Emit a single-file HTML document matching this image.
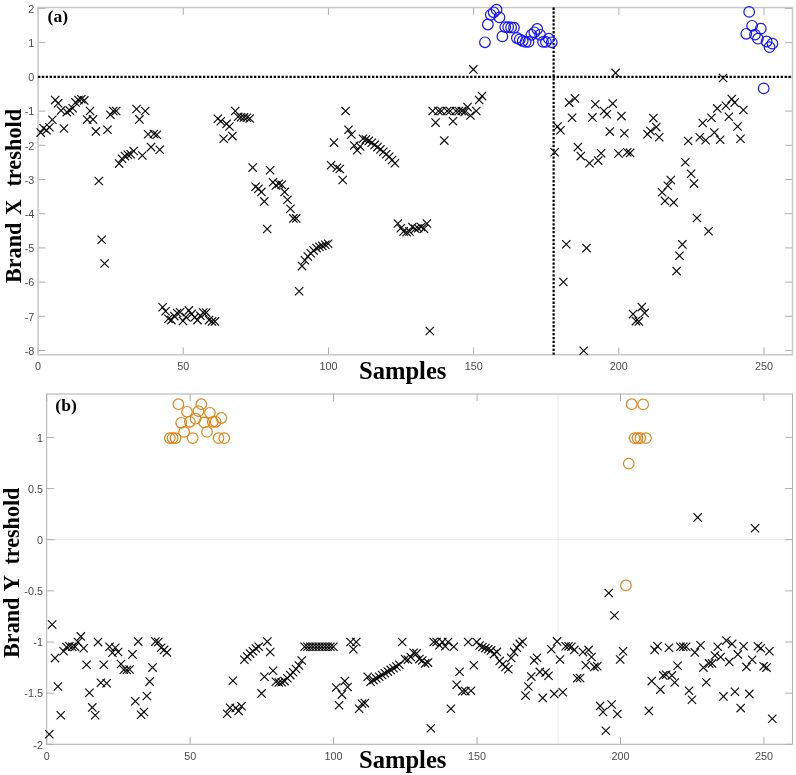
<!DOCTYPE html>
<html lang="en"><head><meta charset="utf-8"><title>Brand X / Brand Y threshold</title>
<style>html,body{margin:0;padding:0;background:#fff}svg{display:block;will-change:transform}.tl{font-family:"Liberation Sans",Arial,sans-serif;font-size:10.8px;fill:#4a4a4a}.bl{font-family:"Liberation Serif","Times New Roman",serif;font-weight:bold;fill:#000}</style></head><body>
<svg width="796" height="775" viewBox="0 0 796 775">
<rect width="796" height="775" fill="#fff"/>
<defs>
<path id="x" d="M-4.15 -4.15 L4.15 4.15 M-4.15 4.15 L4.15 -4.15" fill="none" stroke="#0a0a0a" stroke-width="1.15" stroke-linecap="butt"/>
<circle id="cb" r="5.3" fill="none" stroke="#1414ff" stroke-width="1.2"/>
<circle id="co" r="5.3" fill="none" stroke="#e08418" stroke-width="1.2"/>
</defs>
<g id="plot-a">
<path d="M38.1 354.8 v-7.2 M38.1 7.6 v7.2 M183.28 354.8 v-7.2 M183.28 7.6 v7.2 M328.46 354.8 v-7.2 M328.46 7.6 v7.2 M473.64 354.8 v-7.2 M473.64 7.6 v7.2 M618.82 354.8 v-7.2 M618.82 7.6 v7.2 M764 354.8 v-7.2 M764 7.6 v7.2 M38.1 350.5 h7.2 M792.5 350.5 h-7.2 M38.1 316.3 h7.2 M792.5 316.3 h-7.2 M38.1 282.1 h7.2 M792.5 282.1 h-7.2 M38.1 247.9 h7.2 M792.5 247.9 h-7.2 M38.1 213.7 h7.2 M792.5 213.7 h-7.2 M38.1 179.5 h7.2 M792.5 179.5 h-7.2 M38.1 145.3 h7.2 M792.5 145.3 h-7.2 M38.1 111.1 h7.2 M792.5 111.1 h-7.2 M38.1 76.9 h7.2 M792.5 76.9 h-7.2 M38.1 42.7 h7.2 M792.5 42.7 h-7.2 M38.1 8.5 h7.2 M792.5 8.5 h-7.2" fill="none" stroke="#989898" stroke-width="0.8"/>
<rect x="38.1" y="7.6" width="754.4" height="347.2" fill="none" stroke="#c8c8c8" stroke-width="1.5"/>
<text class="tl" x="38.1" y="370.2" text-anchor="middle">0</text>
<text class="tl" x="183.28" y="370.2" text-anchor="middle">50</text>
<text class="tl" x="328.46" y="370.2" text-anchor="middle">100</text>
<text class="tl" x="473.64" y="370.2" text-anchor="middle">150</text>
<text class="tl" x="618.82" y="370.2" text-anchor="middle">200</text>
<text class="tl" x="764" y="370.2" text-anchor="middle">250</text>
<text class="tl" x="34.3" y="354.7" text-anchor="end">-8</text>
<text class="tl" x="34.3" y="320.5" text-anchor="end">-7</text>
<text class="tl" x="34.3" y="286.3" text-anchor="end">-6</text>
<text class="tl" x="34.3" y="252.1" text-anchor="end">-5</text>
<text class="tl" x="34.3" y="217.9" text-anchor="end">-4</text>
<text class="tl" x="34.3" y="183.7" text-anchor="end">-3</text>
<text class="tl" x="34.3" y="149.5" text-anchor="end">-2</text>
<text class="tl" x="34.3" y="115.3" text-anchor="end">-1</text>
<text class="tl" x="34.3" y="81.1" text-anchor="end">0</text>
<text class="tl" x="34.3" y="46.9" text-anchor="end">1</text>
<text class="tl" x="34.3" y="12.7" text-anchor="end">2</text>
<path d="M37.9 76.9 H792.5" stroke="#000" stroke-width="2.2" stroke-dasharray="2.3 1.63" fill="none"/>
<path d="M553.63 7.6 V354.8" stroke="#000" stroke-width="2.2" stroke-dasharray="2.3 1.62" fill="none"/>
<use href="#x" x="40.7" y="132.6"/>
<use href="#x" x="43.61" y="128.3"/>
<use href="#x" x="46.51" y="130.3"/>
<use href="#x" x="49.41" y="127.2"/>
<use href="#x" x="52.32" y="119.8"/>
<use href="#x" x="55.22" y="100.1"/>
<use href="#x" x="58.13" y="103.2"/>
<use href="#x" x="61.03" y="110.5"/>
<use href="#x" x="63.93" y="128.5"/>
<use href="#x" x="66.84" y="112.1"/>
<use href="#x" x="69.74" y="110.5"/>
<use href="#x" x="72.64" y="108.2"/>
<use href="#x" x="75.55" y="102.4"/>
<use href="#x" x="78.45" y="100"/>
<use href="#x" x="81.35" y="99.2"/>
<use href="#x" x="84.26" y="100.4"/>
<use href="#x" x="87.16" y="119.6"/>
<use href="#x" x="90.06" y="111"/>
<use href="#x" x="92.97" y="119.4"/>
<use href="#x" x="95.87" y="131.4"/>
<use href="#x" x="98.78" y="181"/>
<use href="#x" x="101.68" y="239.7"/>
<use href="#x" x="104.58" y="263.5"/>
<use href="#x" x="107.49" y="129.7"/>
<use href="#x" x="110.39" y="114.8"/>
<use href="#x" x="113.29" y="111"/>
<use href="#x" x="116.2" y="111"/>
<use href="#x" x="119.1" y="163.6"/>
<use href="#x" x="122" y="158.7"/>
<use href="#x" x="124.91" y="156.1"/>
<use href="#x" x="127.81" y="154.8"/>
<use href="#x" x="130.72" y="154.2"/>
<use href="#x" x="133.62" y="151"/>
<use href="#x" x="136.52" y="109"/>
<use href="#x" x="139.43" y="119.4"/>
<use href="#x" x="142.33" y="155.5"/>
<use href="#x" x="145.23" y="111"/>
<use href="#x" x="148.14" y="134.2"/>
<use href="#x" x="151.04" y="147.1"/>
<use href="#x" x="153.94" y="134"/>
<use href="#x" x="156.85" y="134.8"/>
<use href="#x" x="159.75" y="149.7"/>
<use href="#x" x="162.65" y="307.3"/>
<use href="#x" x="165.56" y="311.3"/>
<use href="#x" x="168.46" y="318.7"/>
<use href="#x" x="171.37" y="320.1"/>
<use href="#x" x="174.27" y="316.1"/>
<use href="#x" x="177.17" y="313"/>
<use href="#x" x="180.08" y="312.2"/>
<use href="#x" x="182.98" y="320.9"/>
<use href="#x" x="185.88" y="317"/>
<use href="#x" x="188.79" y="310.4"/>
<use href="#x" x="191.69" y="313.9"/>
<use href="#x" x="194.59" y="317.4"/>
<use href="#x" x="197.5" y="320.1"/>
<use href="#x" x="200.4" y="315.7"/>
<use href="#x" x="203.31" y="312.6"/>
<use href="#x" x="206.21" y="312.6"/>
<use href="#x" x="209.11" y="320.1"/>
<use href="#x" x="212.02" y="321.4"/>
<use href="#x" x="214.92" y="321.4"/>
<use href="#x" x="217.82" y="118.7"/>
<use href="#x" x="220.73" y="121.3"/>
<use href="#x" x="223.63" y="138.7"/>
<use href="#x" x="226.53" y="123.9"/>
<use href="#x" x="229.44" y="126.5"/>
<use href="#x" x="232.34" y="136.1"/>
<use href="#x" x="235.24" y="111"/>
<use href="#x" x="238.15" y="116.8"/>
<use href="#x" x="241.05" y="117.2"/>
<use href="#x" x="243.96" y="117.4"/>
<use href="#x" x="246.86" y="117.7"/>
<use href="#x" x="249.76" y="118.5"/>
<use href="#x" x="252.67" y="167.6"/>
<use href="#x" x="255.57" y="186.8"/>
<use href="#x" x="258.47" y="188.7"/>
<use href="#x" x="261.38" y="191.9"/>
<use href="#x" x="264.28" y="201.4"/>
<use href="#x" x="267.18" y="229"/>
<use href="#x" x="270.09" y="170.2"/>
<use href="#x" x="272.99" y="182.3"/>
<use href="#x" x="275.9" y="185.5"/>
<use href="#x" x="278.8" y="183.8"/>
<use href="#x" x="281.7" y="184.8"/>
<use href="#x" x="284.61" y="191.9"/>
<use href="#x" x="287.51" y="199.7"/>
<use href="#x" x="290.41" y="208.7"/>
<use href="#x" x="293.32" y="218.4"/>
<use href="#x" x="296.22" y="218.4"/>
<use href="#x" x="299.12" y="291.3"/>
<use href="#x" x="302.03" y="266.1"/>
<use href="#x" x="304.93" y="260.3"/>
<use href="#x" x="307.83" y="256.5"/>
<use href="#x" x="310.74" y="253.2"/>
<use href="#x" x="313.64" y="250.6"/>
<use href="#x" x="316.55" y="248.1"/>
<use href="#x" x="319.45" y="246.8"/>
<use href="#x" x="322.35" y="245.9"/>
<use href="#x" x="325.26" y="244.8"/>
<use href="#x" x="328.16" y="243.8"/>
<use href="#x" x="331.06" y="165.3"/>
<use href="#x" x="333.97" y="142.6"/>
<use href="#x" x="336.87" y="167.7"/>
<use href="#x" x="339.77" y="169"/>
<use href="#x" x="342.68" y="180"/>
<use href="#x" x="345.58" y="111"/>
<use href="#x" x="348.49" y="129.7"/>
<use href="#x" x="351.39" y="134.5"/>
<use href="#x" x="354.29" y="145.5"/>
<use href="#x" x="357.2" y="150.3"/>
<use href="#x" x="360.1" y="146.5"/>
<use href="#x" x="363" y="138.7"/>
<use href="#x" x="365.91" y="139.6"/>
<use href="#x" x="368.81" y="140.9"/>
<use href="#x" x="371.71" y="142.8"/>
<use href="#x" x="374.62" y="144.9"/>
<use href="#x" x="377.52" y="147.1"/>
<use href="#x" x="380.42" y="149.4"/>
<use href="#x" x="383.33" y="151.7"/>
<use href="#x" x="386.23" y="154.2"/>
<use href="#x" x="389.14" y="156.8"/>
<use href="#x" x="392.04" y="160"/>
<use href="#x" x="394.94" y="163.2"/>
<use href="#x" x="397.85" y="223.5"/>
<use href="#x" x="400.75" y="228.2"/>
<use href="#x" x="403.65" y="231.4"/>
<use href="#x" x="406.56" y="232.3"/>
<use href="#x" x="409.46" y="231.4"/>
<use href="#x" x="412.36" y="227"/>
<use href="#x" x="415.27" y="228.8"/>
<use href="#x" x="418.17" y="228.2"/>
<use href="#x" x="421.08" y="227"/>
<use href="#x" x="423.98" y="228.8"/>
<use href="#x" x="426.88" y="223.5"/>
<use href="#x" x="429.79" y="331"/>
<use href="#x" x="432.69" y="111"/>
<use href="#x" x="435.59" y="122.6"/>
<use href="#x" x="438.5" y="111"/>
<use href="#x" x="441.4" y="111"/>
<use href="#x" x="444.3" y="140.6"/>
<use href="#x" x="447.21" y="111"/>
<use href="#x" x="450.11" y="111"/>
<use href="#x" x="453.01" y="121.3"/>
<use href="#x" x="455.92" y="111"/>
<use href="#x" x="458.82" y="111"/>
<use href="#x" x="461.73" y="111"/>
<use href="#x" x="464.63" y="112"/>
<use href="#x" x="467.53" y="107.1"/>
<use href="#x" x="470.44" y="115.5"/>
<use href="#x" x="473.34" y="69.4"/>
<use href="#x" x="476.24" y="111"/>
<use href="#x" x="479.15" y="100"/>
<use href="#x" x="482.05" y="96.1"/>
<use href="#cb" x="484.95" y="42.3"/>
<use href="#cb" x="487.86" y="24.5"/>
<use href="#cb" x="490.76" y="14.8"/>
<use href="#cb" x="493.67" y="12.3"/>
<use href="#cb" x="496.57" y="9.7"/>
<use href="#cb" x="499.47" y="17.4"/>
<use href="#cb" x="502.38" y="36.4"/>
<use href="#cb" x="505.28" y="27.1"/>
<use href="#cb" x="508.18" y="27.1"/>
<use href="#cb" x="511.09" y="27.4"/>
<use href="#cb" x="513.99" y="27.7"/>
<use href="#cb" x="516.89" y="38"/>
<use href="#cb" x="519.8" y="39.4"/>
<use href="#cb" x="522.7" y="41"/>
<use href="#cb" x="525.6" y="41.9"/>
<use href="#cb" x="528.51" y="41.9"/>
<use href="#cb" x="531.41" y="34.8"/>
<use href="#cb" x="534.32" y="32.3"/>
<use href="#cb" x="537.22" y="29"/>
<use href="#cb" x="540.12" y="34.8"/>
<use href="#cb" x="543.03" y="41.9"/>
<use href="#cb" x="545.93" y="41.9"/>
<use href="#cb" x="548.83" y="38.7"/>
<use href="#cb" x="551.74" y="42.3"/>
<use href="#x" x="554.64" y="152.3"/>
<use href="#x" x="557.54" y="126.5"/>
<use href="#x" x="560.45" y="130.3"/>
<use href="#x" x="563.35" y="282"/>
<use href="#x" x="566.26" y="244.3"/>
<use href="#x" x="569.16" y="102.6"/>
<use href="#x" x="572.06" y="117.8"/>
<use href="#x" x="574.97" y="98.5"/>
<use href="#x" x="577.87" y="147.1"/>
<use href="#x" x="580.77" y="156.1"/>
<use href="#x" x="583.68" y="350.8"/>
<use href="#x" x="586.58" y="248.1"/>
<use href="#x" x="589.48" y="163.2"/>
<use href="#x" x="592.39" y="117.4"/>
<use href="#x" x="595.29" y="104.3"/>
<use href="#x" x="598.19" y="160.6"/>
<use href="#x" x="601.1" y="153.2"/>
<use href="#x" x="604" y="111"/>
<use href="#x" x="606.91" y="114.2"/>
<use href="#x" x="609.81" y="131.6"/>
<use href="#x" x="612.71" y="103.6"/>
<use href="#x" x="615.62" y="72.9"/>
<use href="#x" x="618.52" y="153.5"/>
<use href="#x" x="621.42" y="116.1"/>
<use href="#x" x="624.33" y="133.3"/>
<use href="#x" x="627.23" y="152.3"/>
<use href="#x" x="630.13" y="152.9"/>
<use href="#x" x="633.04" y="314.1"/>
<use href="#x" x="635.94" y="321.1"/>
<use href="#x" x="638.85" y="321.4"/>
<use href="#x" x="641.75" y="307.1"/>
<use href="#x" x="644.65" y="312.9"/>
<use href="#x" x="647.56" y="134.2"/>
<use href="#x" x="650.46" y="131"/>
<use href="#x" x="653.36" y="118.1"/>
<use href="#x" x="656.27" y="127.1"/>
<use href="#x" x="659.17" y="137.2"/>
<use href="#x" x="662.07" y="192.3"/>
<use href="#x" x="664.98" y="200.9"/>
<use href="#x" x="667.88" y="185.8"/>
<use href="#x" x="670.78" y="180"/>
<use href="#x" x="673.69" y="202.4"/>
<use href="#x" x="676.59" y="271.1"/>
<use href="#x" x="679.5" y="255.7"/>
<use href="#x" x="682.4" y="244.4"/>
<use href="#x" x="685.3" y="162.2"/>
<use href="#x" x="688.21" y="141"/>
<use href="#x" x="691.11" y="173.8"/>
<use href="#x" x="694.01" y="183.6"/>
<use href="#x" x="696.92" y="218"/>
<use href="#x" x="699.82" y="137.2"/>
<use href="#x" x="702.72" y="123"/>
<use href="#x" x="705.63" y="140.3"/>
<use href="#x" x="708.53" y="231.2"/>
<use href="#x" x="711.44" y="117.7"/>
<use href="#x" x="714.34" y="132.6"/>
<use href="#x" x="717.24" y="108.4"/>
<use href="#x" x="720.15" y="139.7"/>
<use href="#x" x="723.05" y="78"/>
<use href="#x" x="725.95" y="105.8"/>
<use href="#x" x="728.86" y="116.8"/>
<use href="#x" x="731.76" y="99.1"/>
<use href="#x" x="734.66" y="102.6"/>
<use href="#x" x="737.57" y="126.5"/>
<use href="#x" x="740.47" y="138.7"/>
<use href="#x" x="743.37" y="110"/>
<use href="#cb" x="746.28" y="33.8"/>
<use href="#cb" x="749.18" y="11.9"/>
<use href="#cb" x="752.09" y="25.8"/>
<use href="#cb" x="754.99" y="34.6"/>
<use href="#cb" x="757.89" y="38.7"/>
<use href="#cb" x="760.8" y="28.6"/>
<use href="#cb" x="763.7" y="88.4"/>
<use href="#cb" x="766.6" y="41.5"/>
<use href="#cb" x="769.51" y="47.1"/>
<use href="#cb" x="772.41" y="43.6"/>
<text class="bl" x="47.6" y="21.6" font-size="17.6">(a)</text>
<text class="bl" x="359" y="379.3" font-size="24.6" textLength="87.4" lengthAdjust="spacingAndGlyphs">Samples</text>
<g transform="translate(20.7 0) rotate(-90)">
<text class="bl" x="-283.1" y="0" font-size="23.4" textLength="60.4" lengthAdjust="spacingAndGlyphs">Brand</text>
<text class="bl" x="-214.9" y="0" font-size="23.4" textLength="15.4" lengthAdjust="spacingAndGlyphs">X</text>
<text class="bl" x="-186.6" y="0" font-size="23.4" textLength="77.8" lengthAdjust="spacingAndGlyphs">treshold</text>
</g>
</g>
<g id="plot-b">
<path d="M46.7 539.5 H792.5 M557.96 394 V744.3" stroke="#dadada" stroke-width="0.6" fill="none"/>
<path d="M46.7 744.3 v-7.2 M46.7 394 v7.2 M190.15 744.3 v-7.2 M190.15 394 v7.2 M333.6 744.3 v-7.2 M333.6 394 v7.2 M477.05 744.3 v-7.2 M477.05 394 v7.2 M620.5 744.3 v-7.2 M620.5 394 v7.2 M763.95 744.3 v-7.2 M763.95 394 v7.2 M46.7 744.3 h7.2 M792.5 744.3 h-7.2 M46.7 693.15 h7.2 M792.5 693.15 h-7.2 M46.7 642 h7.2 M792.5 642 h-7.2 M46.7 590.85 h7.2 M792.5 590.85 h-7.2 M46.7 539.7 h7.2 M792.5 539.7 h-7.2 M46.7 488.55 h7.2 M792.5 488.55 h-7.2 M46.7 437.4 h7.2 M792.5 437.4 h-7.2" fill="none" stroke="#989898" stroke-width="0.8"/>
<rect x="46.7" y="394" width="745.8" height="350.3" fill="none" stroke="#b2b2b2" stroke-width="1.05"/>
<text class="tl" x="46.7" y="759.7" text-anchor="middle">0</text>
<text class="tl" x="190.15" y="759.7" text-anchor="middle">50</text>
<text class="tl" x="333.6" y="759.7" text-anchor="middle">100</text>
<text class="tl" x="477.05" y="759.7" text-anchor="middle">150</text>
<text class="tl" x="620.5" y="759.7" text-anchor="middle">200</text>
<text class="tl" x="763.95" y="759.7" text-anchor="middle">250</text>
<text class="tl" x="42.9" y="748.5" text-anchor="end">-2</text>
<text class="tl" x="42.9" y="697.35" text-anchor="end">-1.5</text>
<text class="tl" x="42.9" y="646.2" text-anchor="end">-1</text>
<text class="tl" x="42.9" y="595.05" text-anchor="end">-0.5</text>
<text class="tl" x="42.9" y="543.9" text-anchor="end">0</text>
<text class="tl" x="42.9" y="492.75" text-anchor="end">0.5</text>
<text class="tl" x="42.9" y="441.6" text-anchor="end">1</text>
<use href="#x" x="49.27" y="734.3"/>
<use href="#x" x="52.14" y="624.5"/>
<use href="#x" x="55.01" y="658.1"/>
<use href="#x" x="57.88" y="686.5"/>
<use href="#x" x="60.75" y="715.2"/>
<use href="#x" x="63.61" y="651.3"/>
<use href="#x" x="66.48" y="647"/>
<use href="#x" x="69.35" y="646.3"/>
<use href="#x" x="72.22" y="646.7"/>
<use href="#x" x="75.09" y="646.7"/>
<use href="#x" x="77.96" y="642"/>
<use href="#x" x="80.83" y="636.4"/>
<use href="#x" x="83.7" y="648.2"/>
<use href="#x" x="86.57" y="664.8"/>
<use href="#x" x="89.44" y="692.7"/>
<use href="#x" x="92.3" y="707.4"/>
<use href="#x" x="95.17" y="715.2"/>
<use href="#x" x="98.04" y="642.1"/>
<use href="#x" x="100.91" y="682.8"/>
<use href="#x" x="103.78" y="664.8"/>
<use href="#x" x="106.65" y="683.2"/>
<use href="#x" x="109.52" y="646.7"/>
<use href="#x" x="112.39" y="652.7"/>
<use href="#x" x="115.26" y="647.7"/>
<use href="#x" x="118.13" y="652"/>
<use href="#x" x="120.99" y="664"/>
<use href="#x" x="123.86" y="669.7"/>
<use href="#x" x="126.73" y="670"/>
<use href="#x" x="129.6" y="669.5"/>
<use href="#x" x="132.47" y="654.4"/>
<use href="#x" x="135.34" y="701.3"/>
<use href="#x" x="138.21" y="641.6"/>
<use href="#x" x="141.08" y="714.8"/>
<use href="#x" x="143.95" y="712"/>
<use href="#x" x="146.81" y="696"/>
<use href="#x" x="149.68" y="681.6"/>
<use href="#x" x="152.55" y="667.6"/>
<use href="#x" x="155.42" y="641.6"/>
<use href="#x" x="158.29" y="642"/>
<use href="#x" x="161.16" y="647.7"/>
<use href="#x" x="164.03" y="649.9"/>
<use href="#x" x="166.9" y="652.4"/>
<use href="#co" x="169.77" y="438.1"/>
<use href="#co" x="172.64" y="438.1"/>
<use href="#co" x="175.51" y="438.1"/>
<use href="#co" x="178.37" y="404.2"/>
<use href="#co" x="181.24" y="422.8"/>
<use href="#co" x="184.11" y="431.9"/>
<use href="#co" x="186.98" y="411.8"/>
<use href="#co" x="189.85" y="421.8"/>
<use href="#co" x="192.72" y="438.1"/>
<use href="#co" x="195.59" y="418.7"/>
<use href="#co" x="198.46" y="411.1"/>
<use href="#co" x="201.33" y="404.2"/>
<use href="#co" x="204.2" y="422.4"/>
<use href="#co" x="207.06" y="431.9"/>
<use href="#co" x="209.93" y="412.8"/>
<use href="#co" x="212.8" y="421.8"/>
<use href="#co" x="215.67" y="421.8"/>
<use href="#co" x="218.54" y="438.1"/>
<use href="#co" x="221.41" y="418"/>
<use href="#co" x="224.28" y="438.1"/>
<use href="#x" x="227.15" y="713.7"/>
<use href="#x" x="230.02" y="707.8"/>
<use href="#x" x="232.89" y="680.8"/>
<use href="#x" x="235.75" y="708"/>
<use href="#x" x="238.62" y="710.9"/>
<use href="#x" x="241.49" y="706.3"/>
<use href="#x" x="244.36" y="659.8"/>
<use href="#x" x="247.23" y="656.5"/>
<use href="#x" x="250.1" y="653.6"/>
<use href="#x" x="252.97" y="651.3"/>
<use href="#x" x="255.84" y="648.5"/>
<use href="#x" x="258.71" y="646.7"/>
<use href="#x" x="261.58" y="693.4"/>
<use href="#x" x="264.44" y="676.8"/>
<use href="#x" x="267.31" y="641.6"/>
<use href="#x" x="270.18" y="652"/>
<use href="#x" x="273.05" y="670.7"/>
<use href="#x" x="275.92" y="681.8"/>
<use href="#x" x="278.79" y="682.5"/>
<use href="#x" x="281.66" y="682.2"/>
<use href="#x" x="284.53" y="681.1"/>
<use href="#x" x="287.4" y="678.3"/>
<use href="#x" x="290.26" y="675.1"/>
<use href="#x" x="293.13" y="672.3"/>
<use href="#x" x="296" y="669"/>
<use href="#x" x="298.87" y="665.5"/>
<use href="#x" x="301.74" y="660.5"/>
<use href="#x" x="304.61" y="646.7"/>
<use href="#x" x="307.48" y="646.7"/>
<use href="#x" x="310.35" y="646.7"/>
<use href="#x" x="313.22" y="646.7"/>
<use href="#x" x="316.09" y="646.7"/>
<use href="#x" x="318.96" y="646.7"/>
<use href="#x" x="321.82" y="646.7"/>
<use href="#x" x="324.69" y="646.7"/>
<use href="#x" x="327.56" y="646.7"/>
<use href="#x" x="330.43" y="646.7"/>
<use href="#x" x="333.3" y="646.7"/>
<use href="#x" x="336.17" y="687.5"/>
<use href="#x" x="339.04" y="705.2"/>
<use href="#x" x="341.91" y="694.6"/>
<use href="#x" x="344.78" y="681.1"/>
<use href="#x" x="347.64" y="687"/>
<use href="#x" x="350.51" y="642"/>
<use href="#x" x="353.38" y="649.2"/>
<use href="#x" x="356.25" y="642"/>
<use href="#x" x="359.12" y="708.8"/>
<use href="#x" x="361.99" y="703.8"/>
<use href="#x" x="364.86" y="703.1"/>
<use href="#x" x="367.73" y="676.8"/>
<use href="#x" x="370.6" y="681.8"/>
<use href="#x" x="373.47" y="680.1"/>
<use href="#x" x="376.34" y="678.4"/>
<use href="#x" x="379.2" y="676.7"/>
<use href="#x" x="382.07" y="675"/>
<use href="#x" x="384.94" y="673.3"/>
<use href="#x" x="387.81" y="671.6"/>
<use href="#x" x="390.68" y="669.9"/>
<use href="#x" x="393.55" y="668.2"/>
<use href="#x" x="396.42" y="666.5"/>
<use href="#x" x="399.29" y="664.8"/>
<use href="#x" x="402.16" y="642"/>
<use href="#x" x="405.02" y="659.1"/>
<use href="#x" x="407.89" y="659.8"/>
<use href="#x" x="410.76" y="657"/>
<use href="#x" x="413.63" y="652.7"/>
<use href="#x" x="416.5" y="653.4"/>
<use href="#x" x="419.37" y="659.1"/>
<use href="#x" x="422.24" y="660.5"/>
<use href="#x" x="425.11" y="663.4"/>
<use href="#x" x="427.98" y="662.6"/>
<use href="#x" x="430.85" y="728.2"/>
<use href="#x" x="433.72" y="642"/>
<use href="#x" x="436.58" y="642"/>
<use href="#x" x="439.45" y="645.3"/>
<use href="#x" x="442.32" y="642.1"/>
<use href="#x" x="445.19" y="646.3"/>
<use href="#x" x="448.06" y="642"/>
<use href="#x" x="450.93" y="708.8"/>
<use href="#x" x="453.8" y="646.7"/>
<use href="#x" x="456.67" y="684.8"/>
<use href="#x" x="459.54" y="671.7"/>
<use href="#x" x="462.41" y="691.3"/>
<use href="#x" x="465.27" y="691.1"/>
<use href="#x" x="468.14" y="642"/>
<use href="#x" x="471.01" y="690.8"/>
<use href="#x" x="473.88" y="665.2"/>
<use href="#x" x="476.75" y="642"/>
<use href="#x" x="479.62" y="645.5"/>
<use href="#x" x="482.49" y="647"/>
<use href="#x" x="485.36" y="648.1"/>
<use href="#x" x="488.23" y="649.2"/>
<use href="#x" x="491.1" y="650.4"/>
<use href="#x" x="493.96" y="654.1"/>
<use href="#x" x="496.83" y="651.9"/>
<use href="#x" x="499.7" y="660.9"/>
<use href="#x" x="502.57" y="664.3"/>
<use href="#x" x="505.44" y="666.9"/>
<use href="#x" x="508.31" y="669.2"/>
<use href="#x" x="511.18" y="657.9"/>
<use href="#x" x="514.05" y="651.9"/>
<use href="#x" x="516.92" y="647.7"/>
<use href="#x" x="519.79" y="643.9"/>
<use href="#x" x="522.65" y="641.7"/>
<use href="#x" x="525.52" y="695.6"/>
<use href="#x" x="528.39" y="686.5"/>
<use href="#x" x="531.26" y="676.6"/>
<use href="#x" x="534.13" y="660.5"/>
<use href="#x" x="537" y="657.7"/>
<use href="#x" x="539.87" y="671.9"/>
<use href="#x" x="542.74" y="697.9"/>
<use href="#x" x="545.61" y="672.6"/>
<use href="#x" x="548.48" y="675.8"/>
<use href="#x" x="551.34" y="649.2"/>
<use href="#x" x="554.21" y="693.9"/>
<use href="#x" x="557.08" y="641.4"/>
<use href="#x" x="559.95" y="659.5"/>
<use href="#x" x="562.82" y="692.2"/>
<use href="#x" x="565.69" y="646.3"/>
<use href="#x" x="568.56" y="646.3"/>
<use href="#x" x="571.43" y="646.7"/>
<use href="#x" x="574.3" y="649.9"/>
<use href="#x" x="577.16" y="678.3"/>
<use href="#x" x="580.03" y="678"/>
<use href="#x" x="582.9" y="652"/>
<use href="#x" x="585.77" y="665.2"/>
<use href="#x" x="588.64" y="649.9"/>
<use href="#x" x="591.51" y="657"/>
<use href="#x" x="594.38" y="666.9"/>
<use href="#x" x="597.25" y="666.2"/>
<use href="#x" x="600.12" y="705.9"/>
<use href="#x" x="602.99" y="712"/>
<use href="#x" x="605.86" y="730.8"/>
<use href="#x" x="608.72" y="593"/>
<use href="#x" x="611.59" y="704.5"/>
<use href="#x" x="614.46" y="615.5"/>
<use href="#x" x="617.33" y="714"/>
<use href="#x" x="620.2" y="659.5"/>
<use href="#x" x="623.07" y="651.3"/>
<use href="#co" x="625.94" y="585.4"/>
<use href="#co" x="628.81" y="463.6"/>
<use href="#co" x="631.68" y="404.2"/>
<use href="#co" x="634.55" y="438.1"/>
<use href="#co" x="637.41" y="438.1"/>
<use href="#co" x="640.28" y="438.1"/>
<use href="#co" x="643.15" y="404.4"/>
<use href="#co" x="646.02" y="438.1"/>
<use href="#x" x="648.89" y="710.9"/>
<use href="#x" x="651.76" y="681.1"/>
<use href="#x" x="654.63" y="649.9"/>
<use href="#x" x="657.5" y="646.3"/>
<use href="#x" x="660.37" y="689.6"/>
<use href="#x" x="663.24" y="675.4"/>
<use href="#x" x="666.1" y="674.7"/>
<use href="#x" x="668.97" y="647.7"/>
<use href="#x" x="671.84" y="675.4"/>
<use href="#x" x="674.71" y="682.5"/>
<use href="#x" x="677.58" y="665.8"/>
<use href="#x" x="680.45" y="646.7"/>
<use href="#x" x="683.32" y="646.7"/>
<use href="#x" x="686.19" y="646.7"/>
<use href="#x" x="689.06" y="690.8"/>
<use href="#x" x="691.93" y="699.8"/>
<use href="#x" x="694.79" y="652.4"/>
<use href="#x" x="697.66" y="517.4"/>
<use href="#x" x="700.53" y="645.3"/>
<use href="#x" x="703.4" y="667.6"/>
<use href="#x" x="706.27" y="682.2"/>
<use href="#x" x="709.14" y="663.4"/>
<use href="#x" x="712.01" y="663.4"/>
<use href="#x" x="714.88" y="655.5"/>
<use href="#x" x="717.75" y="646.7"/>
<use href="#x" x="720.62" y="657"/>
<use href="#x" x="723.48" y="696.4"/>
<use href="#x" x="726.35" y="640.6"/>
<use href="#x" x="729.22" y="661.9"/>
<use href="#x" x="732.09" y="643.9"/>
<use href="#x" x="734.96" y="691.7"/>
<use href="#x" x="737.83" y="654.4"/>
<use href="#x" x="740.7" y="708.1"/>
<use href="#x" x="743.57" y="646.3"/>
<use href="#x" x="746.44" y="666.9"/>
<use href="#x" x="749.31" y="693.9"/>
<use href="#x" x="752.17" y="659.8"/>
<use href="#x" x="755.04" y="528.3"/>
<use href="#x" x="757.91" y="646.3"/>
<use href="#x" x="760.78" y="648.2"/>
<use href="#x" x="763.65" y="666.2"/>
<use href="#x" x="766.52" y="667.6"/>
<use href="#x" x="769.39" y="651.3"/>
<use href="#x" x="772.26" y="718.7"/>
<text class="bl" x="55.3" y="411" font-size="17.6">(b)</text>
<text class="bl" x="359" y="768.4" font-size="24.6" textLength="87.4" lengthAdjust="spacingAndGlyphs">Samples</text>
<g transform="translate(19.3 0) rotate(-90)">
<text class="bl" x="-658" y="0" font-size="23.4" textLength="60.4" lengthAdjust="spacingAndGlyphs">Brand</text>
<text class="bl" x="-591.6" y="0" font-size="23.4" textLength="16.4" lengthAdjust="spacingAndGlyphs">Y</text>
<text class="bl" x="-564.6" y="0" font-size="23.4" textLength="77" lengthAdjust="spacingAndGlyphs">treshold</text>
</g>
</g>
</svg></body></html>
